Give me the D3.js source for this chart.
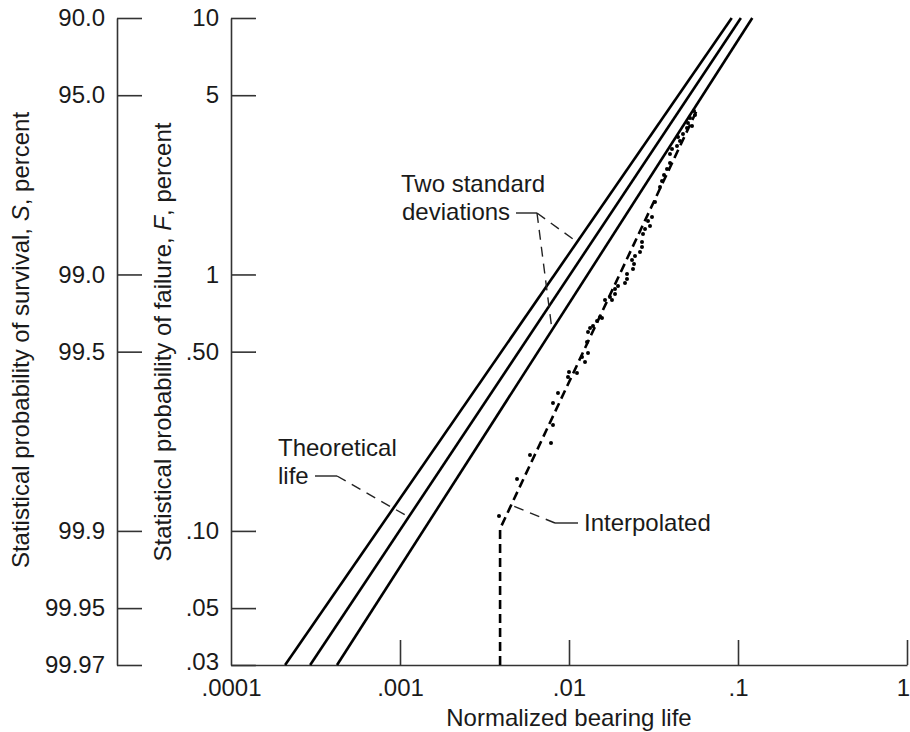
<!DOCTYPE html>
<html><head><meta charset="utf-8">
<script src="https://cdn.jsdelivr.net/npm/d3@7"></script>
<style>
body{margin:0;background:#fff;}
svg text{font-family:"Liberation Sans",Arial,Helvetica,sans-serif;fill:#1a1a1a;}
</style>
</head><body>
<svg id="chart" width="910" height="732"></svg>
<script>
// ---- data ----
const xTickValues = [0.0001, 0.001, 0.01, 0.1, 1];
const xTickLabels = [".0001", ".001", ".01", ".1", "1"];
const failureTicks = [10, 5, 1, 0.5, 0.1, 0.05, 0.03];
const failureLabels = ["10", "5", "1", ".50", ".10", ".05", ".03"];
const survivalLabels = ["90.0", "95.0", "99.0", "99.5", "99.9", "99.95", "99.97"];

// three straight lines: upper (-2 sd), theoretical life, lower (+2 sd)
const lineNames = ["minus2sd", "theoretical", "plus2sd"];
const lineLifeAtBottom = [0.000209, 0.000294, 0.000424];
const lineLifeAtTop = [0.0918, 0.104, 0.1215];
const lineFailure = [0.03, 10];

// interpolated (dashed) curve
const interpLife = [0.00391, 0.00391, 0.0572];
const interpFailure = [0.03, 0.102, 4.38];

// experimental points
const pointLife = [0.003853,0.004925,0.005877,0.007826,0.008040,0.008040,0.008607,0.01,0.01115,0.01244,0.01296,0.01296,0.01387,0.01465,0.01568,0.01633,0.01748,0.01872,0.01872,0.01950,0.02145,0.02204,0.02204,0.02392,0.02425,0.02360,0.02458,0.02631,0.02704,0.02704,0.02741,0.02817,0.03015,0.02934,0.03098,0.03228,0.03455,0.03551,0.03648,0.03801,0.03959,0.03959,0.04069,0.04356,0.04537,0.04416,0.04726,0.04990,0.05343,0.05059,0.05200,0.05567,0.05491,0.01526,0.01332,0.01278,0.01194,0.01796,0.009865];
const pointFailure = [0.1143,0.1594,0.1977,0.2202,0.2588,0.3152,0.3449,0.4165,0.4128,0.4556,0.4940,0.5966,0.6295,0.6584,0.6764,0.7951,0.8168,0.8391,0.8777,0.9016,0.9262,0.9601,1.004,1.050,1.098,1.139,1.180,1.223,1.280,1.339,1.438,1.504,1.545,1.616,1.675,1.916,2.193,2.314,2.443,2.578,2.720,2.949,3.085,3.169,3.314,3.436,3.529,3.725,3.793,3.896,4.075,4.186,4.339,0.6825,0.6183,0.5452,0.4767,0.7951,0.3982];

// annotation anchor failure values (where leaders touch the curves)
const sdLeaderF = [1.338, 0.607];
const theoLeaderF = 0.1133;
const interpLeaderF = 0.126;

// ---- layout ----
const svg = d3.select("#chart");
const x = d3.scaleLog().domain([0.0001, 1]).range([231, 907]);
const y = d3.scaleLog().domain([0.03, 10]).range([665, 18]);
const survAxisX = 117, failAxisX = 231, axisY = 665;
const FS = 24;

function styleAxis(g){
  g.selectAll(".domain").attr("stroke","#333").attr("stroke-width",1.6);
  g.selectAll(".tick line").attr("stroke","#333").attr("stroke-width",1.6);
  g.selectAll(".tick text").attr("font-size",FS).attr("fill","#1a1a1a")
    .style("font-family",'"Liberation Sans",Arial,sans-serif');
}

// survival axis
const gS = svg.append("g").attr("transform",`translate(${survAxisX},0)`)
  .call(d3.axisLeft(y).tickValues(failureTicks).tickSize(-25).tickSizeOuter(0).tickPadding(12)
    .tickFormat((d,i)=>survivalLabels[i]));
styleAxis(gS);

// failure axis
const gF = svg.append("g").attr("transform",`translate(${failAxisX},0)`)
  .call(d3.axisLeft(y).tickValues(failureTicks).tickSize(-25).tickSizeOuter(0).tickPadding(12)
    .tickFormat((d,i)=>failureLabels[i]));
styleAxis(gF);
gF.selectAll(".tick").filter(d=>d===0.03).select("text").attr("y",-3);

// x axis
const gX = svg.append("g").attr("transform",`translate(0,${axisY})`)
  .call(d3.axisBottom(x).tickValues(xTickValues).tickSize(-25).tickSizeOuter(0).tickPadding(14)
    .tickFormat((d,i)=>xTickLabels[i]));
styleAxis(gX);
gX.selectAll(".tick").filter(d=>d===0.0001).select("line").remove();
gX.selectAll(".tick").filter(d=>d===1).select("text").attr("dx",-4);

// axis titles
const t1 = svg.append("text").attr("transform","translate(29,340) rotate(-90)")
  .attr("text-anchor","middle").attr("font-size",FS);
t1.append("tspan").text("Statistical probability of survival, ");
t1.append("tspan").attr("font-style","italic").text("S");
t1.append("tspan").text(", percent");

const t2 = svg.append("text").attr("transform","translate(171,342) rotate(-90)")
  .attr("text-anchor","middle").attr("font-size",FS);
t2.append("tspan").text("Statistical probability of failure, ");
t2.append("tspan").attr("font-style","italic").text("F");
t2.append("tspan").text(", percent");

svg.append("text").attr("x",569).attr("y",726).attr("text-anchor","middle")
  .attr("font-size",FS).text("Normalized bearing life");

// lines
const lineGen = d3.line().x(d=>x(d[0])).y(d=>y(d[1]));
const straightLines = lineNames.map((n,i)=>({name:n, pts:[[lineLifeAtBottom[i],lineFailure[0]],[lineLifeAtTop[i],lineFailure[1]]]}));
svg.append("g").selectAll("path").data(straightLines).join("path")
  .attr("d",d=>lineGen(d.pts)).attr("fill","none").attr("stroke","#000").attr("stroke-width",2.6);

const interpPts = interpLife.map((v,i)=>[v,interpFailure[i]]);
svg.append("path").attr("d",lineGen(interpPts)).attr("fill","none")
  .attr("stroke","#000").attr("stroke-width",2.6).attr("stroke-dasharray","9,5");

svg.append("g").selectAll("circle").data(pointLife.map((v,i)=>[v,pointFailure[i]])).join("circle")
  .attr("cx",d=>x(d[0])).attr("cy",d=>y(d[1])).attr("r",2).attr("fill","#000");

// helper: point on a straight line (in log-log) at a failure value
function onLine(idx, F){
  const p0=straightLines[idx].pts[0], p1=straightLines[idx].pts[1];
  const t=(Math.log(F)-Math.log(p0[1]))/(Math.log(p1[1])-Math.log(p0[1]));
  const lx=Math.log(p0[0])+t*(Math.log(p1[0])-Math.log(p0[0]));
  return [x(Math.exp(lx)), y(F)];
}
function onInterp(F){
  const p0=interpPts[1], p1=interpPts[2];
  const t=(Math.log(F)-Math.log(p0[1]))/(Math.log(p1[1])-Math.log(p0[1]));
  const lx=Math.log(p0[0])+t*(Math.log(p1[0])-Math.log(p0[0]));
  return [x(Math.exp(lx)), y(F)];
}

const ann = svg.append("g");
function solid(x1,y1,x2,y2){ann.append("line").attr("x1",x1).attr("y1",y1).attr("x2",x2).attr("y2",y2).attr("stroke","#222").attr("stroke-width",1.4);}
function dashed(x1,y1,p){ann.append("line").attr("x1",x1).attr("y1",y1).attr("x2",p[0]).attr("y2",p[1]).attr("stroke","#222").attr("stroke-width",1.4).attr("stroke-dasharray","10,7");}
function label(tx,ty,s){ann.append("text").attr("x",tx).attr("y",ty).attr("font-size",FS).text(s);}

// Two standard deviations
label(401,192,"Two standard");
label(402,220,"deviations");
solid(516,213,537,213);
dashed(537,213,onLine(0,sdLeaderF[0]));
dashed(537,213,onLine(2,sdLeaderF[1]));

// Theoretical life
label(278,456,"Theoretical");
label(278,484,"life");
solid(315,476,337,476);
dashed(337,476,onLine(1,theoLeaderF));

// Interpolated
label(584,531,"Interpolated");
solid(555,523,578,523);
dashed(555,523,onInterp(interpLeaderF));
</script>
</body></html>
